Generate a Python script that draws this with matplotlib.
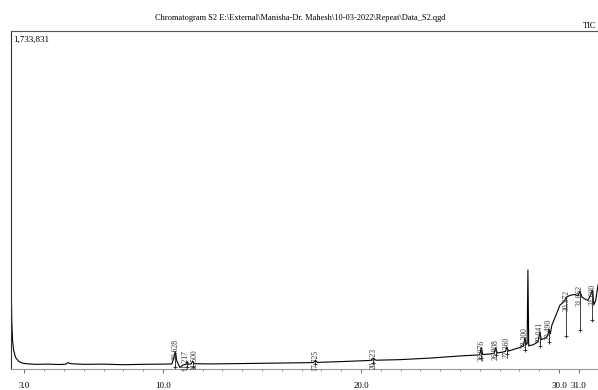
import matplotlib
matplotlib.use("Agg")
import matplotlib.pyplot as plt
import numpy as np

# ---- data ----
rt_min = [2.33, 2.36, 2.40, 2.45, 2.55, 2.70, 2.90, 3.20, 3.6, 4.2, 4.8, 5.10, 5.20, 5.35, 6.0, 7.0,
          8.0, 9.0, 10.0, 10.45, 10.55, 10.62, 10.70, 10.85, 11.0, 11.15, 11.22, 11.30, 11.42, 11.50,
          11.58, 12.5, 14.0, 15.5, 17.0, 17.60, 17.70, 17.80, 19.0, 20.50, 20.62, 20.75, 21.97, 23.5,
          25.0, 25.91, 26.00, 26.07, 26.15, 26.5, 26.72, 26.80, 26.88, 27.15, 27.30, 27.36, 27.45,
          27.78, 28.03, 28.20, 28.28, 28.34, 28.39, 28.43, 28.47, 28.55, 28.68, 28.94, 29.04, 29.10,
          29.20, 29.34, 29.44, 29.49, 29.56, 29.64, 29.85, 30.05, 30.25, 30.37, 30.45, 30.55, 30.80,
          30.96, 31.06, 31.15, 31.26, 31.46, 31.56, 31.69, 31.76, 31.85, 31.97, 32.1]
intensity = [480e3, 250e3, 150e3, 100e3, 60e3, 40e3, 30e3, 26e3, 24e3, 25e3, 23e3, 25e3, 33e3, 27e3,
             24e3, 25e3, 22e3, 24e3, 25e3, 26e3, 60e3, 90e3, 40e3, 8e3, 20e3, 24e3, 38e3, 24e3, 26e3,
             40e3, 27e3, 26e3, 28e3, 30e3, 32e3, 33e3, 45e3, 34e3, 38e3, 44e3, 56e3, 45e3, 48e3, 56e3,
             67e3, 72e3, 74e3, 110e3, 74e3, 77e3, 80e3, 108e3, 82e3, 87e3, 90e3, 113e3, 92e3,
             103e3, 110e3, 118e3, 160e3, 125e3, 130e3, 508e3, 118e3, 122e3, 123e3, 139e3, 190e3, 150e3,
             155e3, 160e3, 175e3, 205e3, 180e3, 225e3, 277e3, 328e3, 345e3, 369e3, 372e3, 378e3, 382e3,
             375e3, 400e3, 370e3, 362e3, 352e3, 372e3, 405e3, 330e3, 350e3, 430e3, 460e3]

peak_rt = [10.62, 11.22, 11.50, 17.70, 20.62, 26.07, 26.80, 27.36, 28.28, 29.04, 29.49, 30.37, 31.06, 31.69]
peak_labels = ["10.628", "11.217", "11.500", "17.725", "20.623", "26.076", "26.808", "27.360",
               "28.300", "29.041", "29.490", "30.372", "31.062", "31.690"]
peak_label_x = [10.62, 11.12, 11.58, 17.70, 20.62, 26.07, 26.80, 27.36, 28.28, 29.04, 29.49, 30.37, 31.06, 31.69]
peak_label_y = [100e3, 45e3, 48e3, 45e3, 55e3, 95e3, 100e3, 110e3, 160e3, 190e3, 205e3, 350e3, 375e3, 380e3]
peak_drop_top = [90e3, 38e3, 40e3, 45e3, 56e3, 110e3, 108e3, 113e3, 160e3, 190e3, 205e3, 369e3, 400e3, 405e3]
peak_drop_bottom = [10e3, 10e3, 12e3, 25e3, 33e3, 55e3, 70e3, 75e3, 100e3, 120e3, 140e3, 170e3, 200e3, 250e3]

y_max = 1733831
x_tick_pos = [3.0, 10.0, 20.0, 30.0, 31.0]
x_tick_labels = ["3.0", "10.0", "20.0", "30.0", "31.0"]

title = r"Chromatogram S2 E:\External\Manisha-Dr. Mahesh\10-03-2022\Repeat\Data_S2.qgd"

# ---- figure ----
W, H = 598, 390
fig = plt.figure(figsize=(W / 100, H / 100), dpi=100)
ax = fig.add_axes([11 / W, 1 - 369 / H, 1.02, (369 - 31) / H])
serif = ["Liberation Serif", "DejaVu Serif"]

ax.plot(rt_min, intensity, color="black", lw=0.8)
ax.vlines(peak_rt, peak_drop_bottom, peak_drop_top, color="#222222", lw=0.6)
ax.plot(peak_rt, peak_drop_bottom, "+", color="#222222", ms=3.5, mew=0.6)
for x, yl, t in zip(peak_label_x, peak_label_y, peak_labels):
    ax.text(x, yl, t, rotation=90, ha="center", va="center", fontsize=5.5,
            family=serif, color="#333333")

xmin = 2.323
xmax = xmin + (W * 1.02) / 19.8
ax.set_xlim(xmin, xmax)
ax.set_ylim(0, y_max)

ax.set_xticks(x_tick_pos)
ax.set_xticklabels(x_tick_labels, family=serif, fontsize=6.5)
ax.set_xticks(np.arange(3, 33, 1), minor=True)
ax.tick_params(axis="x", which="major", length=3, width=0.6, color="#555555", pad=6)
ax.tick_params(axis="x", which="minor", length=1.5, width=0.5, color="#555555")
ax.set_yticks([])

ax.spines["right"].set_visible(False)
ax.spines["left"].set_color("#333333")
ax.spines["left"].set_linewidth(0.8)
ax.spines["top"].set_color("#555555")
ax.spines["top"].set_linewidth(0.8)
ax.spines["bottom"].set_color("#999999")
ax.spines["bottom"].set_linewidth(0.8)

ax.text(0.003, 0.985, "1,733,831", transform=ax.transAxes, ha="left", va="top",
        fontsize=6.5, family=serif)
fig.text(300 / W, 1 - 18 / H, title, ha="center", va="center", fontsize=6, family=serif)
fig.text(583 / W, 1 - 26 / H, "TIC", ha="left", va="center", fontsize=6, family=serif)

fig.savefig("out.png", dpi=100)
